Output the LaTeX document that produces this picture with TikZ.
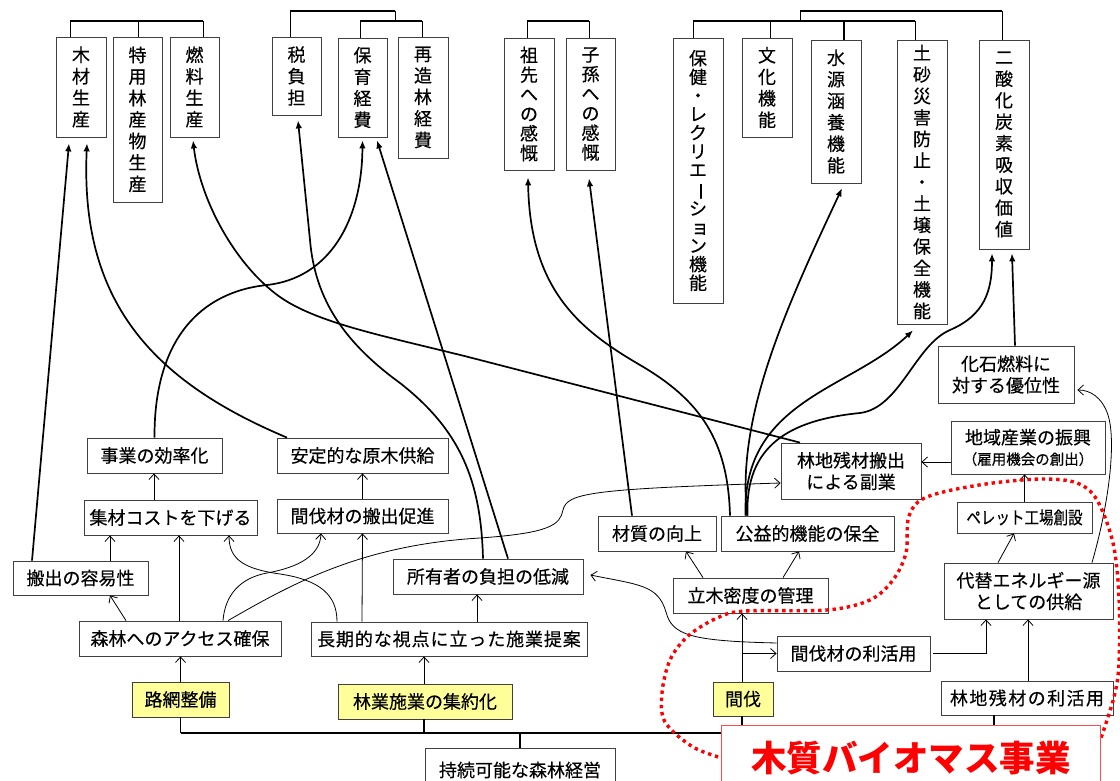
\documentclass[tikz,border=0pt]{standalone}
\usepackage{fontspec}
\usepackage{graphicx}
\newfontfamily\jp[FakeBold=0.35]{Noto Sans CJK JP}
\newfontfamily\jpt{Noto Sans CJK JP}
\newfontfamily\jpn[FakeStretch=0.83,FakeBold=0.35]{Noto Sans CJK JP}
\newcommand{\vbar}{\rotatebox[origin=c]{-90}{ー}}
\usetikzlibrary{arrows.meta,calc}
\definecolor{bx}{HTML}{404040}
\definecolor{yel}{HTML}{FFFF99}
\definecolor{rbox}{HTML}{FF4A4A}
\tikzset{
  box/.style={draw=bx, line width=0.8pt, fill=white, inner sep=0pt, align=center,
    font=\jp\fontsize{18}{21.5}\selectfont},
  vbox/.style={box, font=\jp\fontsize{18}{21.5}\selectfont},
  ybox/.style={box, fill=yel},
  thk/.style={line width=1.7pt, -{Latex[length=8pt,width=6.5pt]}},
  thn/.style={line width=0.8pt, -{Straight Barb[length=5.5pt,width=10pt]}},
  hl/.style={line width=1.9pt},
  vl/.style={line width=0.9pt},
}
\begin{document}
\begin{tikzpicture}[x=1pt,y=-1pt]
\useasboundingbox (0,0) rectangle (1120,781);
\fill[white] (0,0) rectangle (1120,781);

% ---------- top vertical boxes ----------
\node[vbox, minimum width=50pt, minimum height=100pt] (mokuzai) at (81,87) {木\\材\\生\\産};
\node[vbox, minimum width=49pt, minimum height=165pt] (tokuyo) at (137.5,119.5) {特\\用\\林\\産\\物\\生\\産};
\node[vbox, minimum width=49pt, minimum height=100pt] (nenryo) at (194.5,87) {燃\\料\\生\\産};
\node[vbox, minimum width=49pt, minimum height=78pt] (zei) at (296.5,76) {税\\負\\担};
\node[vbox, minimum width=49pt, minimum height=99pt] (hoiku) at (362.5,87.5) {保\\育\\経\\費};
\node[vbox, minimum width=50pt, minimum height=121pt] (saizo) at (423,97.5) {再\\造\\林\\経\\費};
\node[vbox, font=\jp\fontsize{18}{19.6}\selectfont, minimum width=50pt, minimum height=132pt] (sosen) at (529,104) {祖\\先\\へ\\の\\感\\慨};
\node[vbox, font=\jp\fontsize{18}{19.6}\selectfont, minimum width=49pt, minimum height=132pt] (shison) at (590.5,104) {子\\孫\\へ\\の\\感\\慨};
\node[vbox, font=\jp\fontsize{18}{18.6}\selectfont, minimum width=50pt, minimum height=265pt] (hoken) at (698,170.5) {保\\健\\・\\レ\\ク\\リ\\エ\\\vbar\\シ\\\hspace*{4pt}ョ\\ン\\機\\能};
\node[vbox, minimum width=50pt, minimum height=99pt] (bunka) at (767,87.5) {文\\化\\機\\能};
\node[vbox, minimum width=50pt, minimum height=143pt] (suigen) at (836,111.5) {水\\源\\涵\\養\\機\\能};
\node[vbox, minimum width=50pt, minimum height=284pt] (dosha) at (922,182) {土\\砂\\災\\害\\防\\止\\・\\土\\壌\\保\\全\\機\\能};
\node[vbox, minimum width=50pt, minimum height=209pt] (nisanka) at (1004,144.5) {二\\酸\\化\\炭\\素\\吸\\収\\価\\値};

% ---------- horizontal boxes ----------
\node[box, minimum width=135pt, minimum height=35pt] (jigyo) at (154.5,455.5) {事業の効率化};
\node[box, minimum width=171pt, minimum height=35pt] (antei) at (362.5,455.5) {安定的な原木供給};
\node[box, minimum width=173pt, minimum height=35pt] (shuzai) at (170.5,517.5) {集材コストを下げる};
\node[box, minimum width=171pt, minimum height=34pt] (kanhan) at (362.5,516) {間伐材の搬出促進};
\node[box, minimum width=135pt, minimum height=34pt] (hanshutsu) at (80.5,578) {搬出の容易性};
\node[box, minimum width=190pt, minimum height=35pt] (shoyusha) at (488,576.5) {所有者の負担の低減};
\node[box, minimum width=202pt, minimum height=35pt] (access) at (180,638.5) {森林へのアクセス確保};
\node[box, font={\jp\fontsize{18}{21.5}\selectfont\addfontfeature{LetterSpace=5}}, minimum width=276pt, minimum height=34pt] (choki) at (449,639) {長期的な視点に立った施業提案};
\node[ybox, minimum width=97pt, minimum height=35pt] (romo) at (180.5,699.5) {路網整備};
\node[ybox, minimum width=174pt, minimum height=35pt] (ringyo) at (425,701.5) {林業施業の集約化};
\node[box, minimum width=190pt, minimum height=44pt] (jizoku) at (520,770) {持続可能な森林経営};
\node[box, minimum width=118pt, minimum height=35pt] (zaishitsu) at (657,533.5) {材質の向上};
\node[box, minimum width=173pt, minimum height=35pt] (koeki) at (807.5,533.5) {公益的機能の保全};
\node[box, minimum width=155pt, minimum height=35pt] (ryuboku) at (750.5,595.5) {立木密度の管理};
\node[ybox, minimum width=60pt, minimum height=34pt] (kanbatsu) at (743,699) {間伐};
\node[box, minimum width=153pt, minimum height=35pt] (rikatsu) at (853.5,653.5) {間伐材の利活用};
\node[box, minimum width=140pt, minimum height=56pt] (zanzai) at (851,471) {林地残材搬出\\による副業};
\node[box, minimum width=154pt, minimum height=53pt] (chiiki) at (1028,447.5) {地域産業の振興\\[-1pt]{\fontsize{14.5}{17}\selectfont （雇用機会の創出）}};
\node[box, minimum width=136pt, minimum height=57pt] (kaseki) at (1006,374.5) {化石燃料に\\対する優位性};
\node[box, font=\jpn\fontsize{17.5}{21}\selectfont, minimum width=135pt, minimum height=31pt] (pellet) at (1024.5,517.5) {ペレット工場創設};
\node[box, minimum width=169pt, minimum height=56pt] (daitai) at (1028.5,591) {代替エネルギー源\\としての供給};
\node[box, font={\jp\fontsize{18}{21.5}\selectfont\addfontfeature{LetterSpace=8}}, minimum width=172pt, minimum height=34pt] (zanrikatsu) at (1027,698) {林地残材の利活用};

% ---------- top brackets ----------
\coordinate (ra) at (0,11);
\coordinate (rb) at (0,21);
\coordinate (rc) at (0,733);
\coordinate (j2) at (395,21);
\coordinate (j1) at (800,21);
% group 1
\draw[hl] ([xshift=-11pt]mokuzai.north |- rb) -- ([xshift=8.5pt]nenryo.north |- rb);
\draw[vl] ([xshift=-11pt]mokuzai.north) -- ([xshift=-11pt]mokuzai.north |- rb);
\draw[vl] ([xshift=0.5pt]tokuyo.north) -- ([xshift=0.5pt]tokuyo.north |- rb);
\draw[vl] ([xshift=8.5pt]nenryo.north) -- ([xshift=8.5pt]nenryo.north |- rb);
% group 2
\draw[vl] ([xshift=-6.5pt]zei.north) -- ([xshift=-6.5pt]zei.north |- ra);
\draw[hl] ([xshift=-6.5pt]zei.north |- ra) -- (j2 |- ra);
\draw[vl] (j2 |- ra) -- (j2);
\draw[hl] ([xshift=-2.5pt]hoiku.north |- rb) -- ([xshift=-1pt]saizo.north |- rb);
\draw[vl] ([xshift=-2.5pt]hoiku.north) -- ([xshift=-2.5pt]hoiku.north |- rb);
\draw[vl] ([xshift=-1pt]saizo.north) -- ([xshift=-1pt]saizo.north |- rb);
% group 3
\draw[hl] ([xshift=-2pt]sosen.north |- rb) -- ([xshift=-1.5pt]shison.north |- rb);
\draw[vl] ([xshift=-2pt]sosen.north) -- ([xshift=-2pt]sosen.north |- rb);
\draw[vl] ([xshift=-1.5pt]shison.north) -- ([xshift=-1.5pt]shison.north |- rb);
% group 4
\draw[hl] ([xshift=-5pt]hoken.north |- rb) -- ([xshift=-7pt]dosha.north |- rb);
\draw[vl] ([xshift=-5pt]hoken.north) -- ([xshift=-5pt]hoken.north |- rb);
\draw[vl] ([xshift=3pt]bunka.north) -- ([xshift=3pt]bunka.north |- rb);
\draw[hl] ([xshift=8pt]suigen.north) -- ([xshift=8pt]suigen.north |- rb);
\draw[vl] ([xshift=-7pt]dosha.north) -- ([xshift=-7pt]dosha.north |- rb);
\draw[vl] (j1) -- (j1 |- ra);
\draw[hl] (j1 |- ra) -- ([xshift=-2pt]nisanka.north |- ra);
\draw[vl] ([xshift=-2pt]nisanka.north |- ra) -- ([xshift=-2pt]nisanka.north);

% ---------- bottom bracket ----------
\draw[hl] (romo.south |- rc) -- ([xshift=-33pt]zanrikatsu.south |- rc);
\draw[hl] (romo.south) -- (romo.south |- rc);
\draw[hl] ([xshift=-1pt]ringyo.south) -- ([xshift=-1pt]ringyo.south |- rc);
\draw[hl] (jizoku.north) -- (jizoku.north |- rc);
\draw[hl] ([xshift=-1pt]kanbatsu.south) -- ([xshift=-1pt]kanbatsu.south |- rc);
\draw[hl] ([xshift=-33pt]zanrikatsu.south) -- ([xshift=-33pt]zanrikatsu.south |- rc);

% ---------- thick connectors ----------
\draw[thk] ([xshift=-48.5pt]hanshutsu.north) -- ([xshift=-12pt,yshift=-6pt]mokuzai.south);
\draw[thk] ([xshift=-75.5pt]antei.north) .. controls (150,380) and (80,300) .. ([xshift=6pt,yshift=-6pt]mokuzai.south);
\draw[thk] (jigyo.north) .. controls (154,340) and (200,292) .. (267,285) .. controls (330,278) and (362,220) .. ([yshift=-3pt]hoiku.south);
\draw[thk] ([xshift=-51pt]zanzai.north) -- (480,360) .. controls (395,338) and (320,325) .. (280,297) .. controls (235,265) and (200,200) .. ([xshift=-1.5pt,yshift=-3pt]nenryo.south);
\draw[thk] ([xshift=-5pt]shoyusha.north) .. controls (481,480) and (460,430) .. (400,383) .. controls (345,343) and (315,300) .. (310,240) -- ([xshift=1.5pt,yshift=-5pt]zei.south);
\draw[thk] ([xshift=20pt]shoyusha.north) -- ([xshift=14.5pt,yshift=-3pt]hoiku.south);
\draw[thk] ([xshift=-77.5pt]koeki.north) .. controls (728,440) and (700,400) .. (640,365) .. controls (580,330) and (530,290) .. ([xshift=-1pt,yshift=-7pt]sosen.south);
\draw[thk] ([xshift=-25pt]zaishitsu.north) -- ([xshift=-1.5pt,yshift=-8pt]shison.south);
\draw[thk] ([xshift=-60.5pt]koeki.north) .. controls (737,420) and (780,320) .. ([xshift=6pt,yshift=-5pt]suigen.south);
\draw[thk] ([xshift=-62pt]koeki.north) .. controls (742,400) and (850,390) .. ([xshift=-9pt,yshift=-6pt]dosha.south);
\draw[thk] ([xshift=-60pt]koeki.north) .. controls (745,445) and (790,420) .. (860,413) .. controls (900,408) and (915,345) .. (950,330) .. controls (985,315) and (992,290) .. ([xshift=-12pt,yshift=-4pt]nisanka.south);
\draw[thk] ([xshift=9pt]kaseki.north) -- ([xshift=8pt,yshift=-4pt]nisanka.south);

% ---------- thin connectors ----------
\draw[thn] ([xshift=-16.5pt]shuzai.north) -- ([xshift=-0.5pt]jigyo.south);
\draw[thn] (kanhan.north) -- (antei.south);
\draw[thn] ([xshift=29.5pt]hanshutsu.north) -- ([xshift=-60.5pt]shuzai.south);
\draw[thn] ([xshift=-1pt]access.north) -- ([xshift=8.5pt]shuzai.south);
\draw[thn] ([xshift=-112pt]choki.north) .. controls (337,595) and (320,580) .. (280,574) .. controls (245,569) and (229,560) .. ([xshift=58.5pt]shuzai.south);
\draw[thn] ([xshift=43pt]access.north) .. controls (225,595) and (240,578) .. (267,573) .. controls (300,567) and (320,555) .. ([xshift=-41.5pt]kanhan.south);
\draw[thn] ([xshift=48pt]access.north) .. controls (290,585) and (360,545) .. (480,538) .. controls (550,533) and (560,525) .. (563,510) .. controls (567,493) and (590,489) .. ([yshift=-12pt]zanzai.west);
\draw[thn] (romo.north) -- (romo.north |- access.south);
\draw[thn] ([xshift=-54pt]access.north) -- ([xshift=29.5pt]hanshutsu.south);
\draw[thn] ([xshift=-87pt]choki.north) -- (kanhan.south);
\draw[thn] ([xshift=28pt]choki.north) -- ([xshift=-11pt]shoyusha.south);
\draw[thn] ([xshift=-1pt]ringyo.north) -- ([xshift=-25pt]choki.south);
\draw[thn] ([yshift=10.5pt]rikatsu.west) .. controls (690,641) and (672,635) .. (666,612) .. controls (658,585) and (640,585) .. ([xshift=7pt,yshift=1.5pt]shoyusha.east);
\draw[thn] ([xshift=-47.5pt]ryuboku.north) -- ([xshift=29pt]zaishitsu.south);
\draw[thn] ([xshift=32.5pt]ryuboku.north) -- ([xshift=-8.5pt]koeki.south);
\draw[thn] ([xshift=-1pt]kanbatsu.north) -- ([xshift=-8.5pt]ryuboku.south);
\draw[thn] ([xshift=-1pt]kanbatsu.north |- rikatsu.west) -- (rikatsu.west);
\draw[thn] ([yshift=-14.5pt]chiiki.west) -- ([yshift=9pt]zanzai.east);
\draw[thn] (pellet.north) -- ([xshift=-3.5pt]chiiki.south);
\draw[thn] ([xshift=-30.5pt]daitai.north) -- ([xshift=-10.5pt]pellet.south);
\draw[thn] ([xshift=63.5pt]daitai.north) .. controls (1110,500) and (1116,440) .. (1108,415) .. controls (1102,397) and (1090,390) .. ([xshift=3pt,yshift=-15.5pt]kaseki.east);
\coordinate (dj) at ([xshift=-42.5pt]daitai.south |- rikatsu.east);
\draw[hl] ([xshift=3pt]rikatsu.east) -- (dj);
\draw[thn] (dj) -- ([xshift=-42.5pt]daitai.south);
\draw[thn] ([xshift=1pt]zanrikatsu.north) -- ([xshift=-0.5pt]daitai.south);

% ---------- red dotted outline ----------
\draw[red, line width=3.4pt, dash pattern=on 3.4pt off 3.8pt] plot[smooth, tension=0.55] coordinates {(725,759) (693,747) (665,722) (662,693) (670,660) (688,636) (717,618) (745,611) (827,610) (870,600) (893,580) (906,553) (908,520) (918,502) (943,492) (993,483) (1043,479) (1077,483) (1097,500) (1113,543) (1119,597) (1119,663) (1114,697) (1101,738)};

% ---------- biomass box ----------
\node[draw=rbox, line width=1pt, fill=white, inner sep=0pt, minimum width=379pt, minimum height=66pt, anchor=north west, text=red, font=\jpt\bfseries\fontsize{35.5}{40}\selectfont] (biomass) at (721,725) {木質バイオマス事業};
\end{tikzpicture}
\end{document}
